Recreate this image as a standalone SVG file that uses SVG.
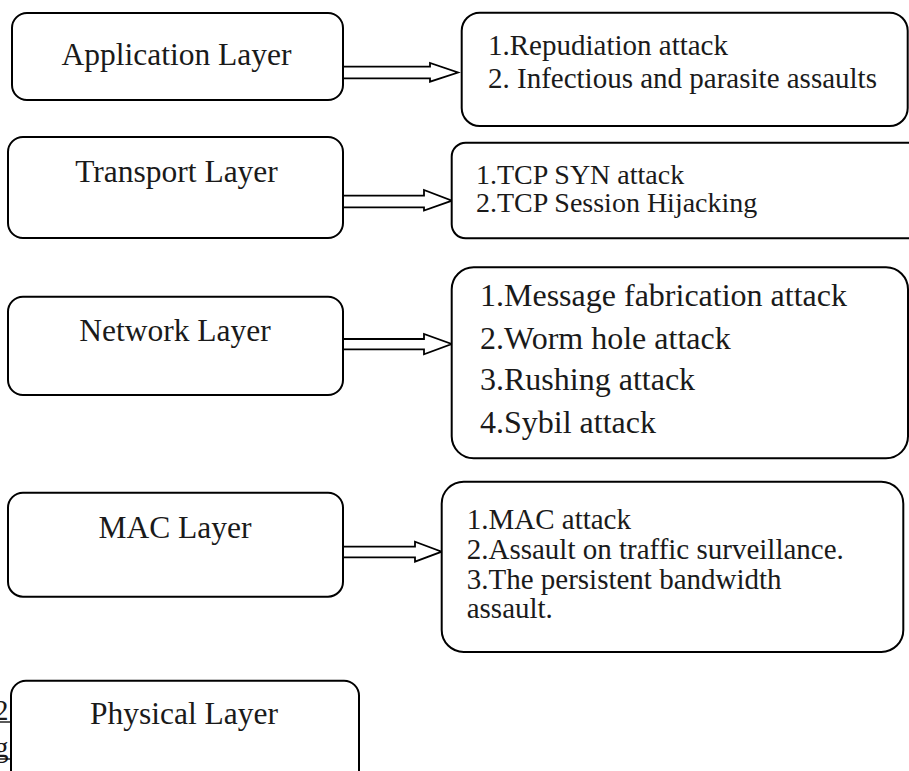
<svg xmlns="http://www.w3.org/2000/svg" width="909" height="771" viewBox="0 0 909 771">
<style>
.box{fill:#fff;stroke:#000;stroke-width:2}
.arrow{fill:#fff;stroke:#000;stroke-width:1.8;stroke-linejoin:miter}
.lbl{font-family:"Liberation Serif","Times New Roman",serif;font-size:31.5px;fill:#1a1a1a;text-anchor:middle}
.it{font-family:"Liberation Serif","Times New Roman",serif;font-size:29px;fill:#1a1a1a}
.big{font-size:32px}
.tcp{font-size:28px}
.frag{font-family:"Liberation Serif","Times New Roman",serif;font-size:29px;fill:#1a1a1a}
</style>
<rect width="909" height="771" fill="#fff"/>
<g id="fragments">
<text class="frag" x="-6" y="720">2</text>
<text class="frag" x="-6" y="757">g</text>
<line x1="0" y1="722" x2="11" y2="722" stroke="#000" stroke-width="1.3"/>
<line x1="0" y1="759" x2="11" y2="759" stroke="#000" stroke-width="1.3"/>
</g>
<g id="connectors">
<polygon class="arrow" points="343,66.7 430,66.7 430,63 458,72.5 430,81.7 430,78.3 343,78.3"/>
<polygon class="arrow" points="343,195.7 424,195.7 424,190 452,200.7 424,210.5 424,207.3 343,207.3"/>
<polygon class="arrow" points="343,339 424,339 424,334 451.7,344 424,354.3 424,349.3 343,349.3"/>
<polygon class="arrow" points="343,546.7 415,546.7 415,541.7 441.7,551.7 415,561.7 415,557.3 343,557.3"/>
</g>
<g id="application">
<rect class="box" x="12" y="13" width="331" height="87" rx="15"/>
<text class="lbl" x="176.5" y="65">Application Layer</text>
</g>
<g id="application-attacks">
<rect class="box" x="461.7" y="12.7" width="446" height="113.3" rx="18"/>
<text class="it" x="488" y="55">1.Repudiation attack</text>
<text class="it" x="488" y="88">2. Infectious and parasite assaults</text>
</g>
<g id="transport">
<rect class="box" x="8" y="137" width="335" height="101" rx="15"/>
<text class="lbl" x="176.5" y="182">Transport Layer</text>
</g>
<g id="transport-attacks">
<rect class="box" x="451.7" y="142.7" width="480" height="95.6" rx="14"/>
<text class="it tcp" x="476" y="184">1.TCP SYN attack</text>
<text class="it tcp" x="476" y="212">2.TCP Session Hijacking</text>
</g>
<g id="network">
<rect class="box" x="8" y="296.7" width="335" height="98.3" rx="15"/>
<text class="lbl" x="175" y="341">Network Layer</text>
</g>
<g id="network-attacks">
<rect class="box" x="451.7" y="267.3" width="456.3" height="191" rx="22"/>
<text class="it big" x="480" y="305.5">1.Message fabrication attack</text>
<text class="it big" x="480" y="349">2.Worm hole attack</text>
<text class="it big" x="480" y="390">3.Rushing attack</text>
<text class="it big" x="480" y="433">4.Sybil attack</text>
</g>
<g id="mac">
<rect class="box" x="8" y="492.7" width="335" height="104" rx="15"/>
<text class="lbl" x="175" y="538">MAC Layer</text>
</g>
<g id="mac-attacks">
<rect class="box" x="441.7" y="481.7" width="461.6" height="170.3" rx="22"/>
<text class="it" x="466.7" y="529">1.MAC attack</text>
<text class="it" x="466.7" y="559">2.Assault on traffic surveillance.</text>
<text class="it" x="466.7" y="588.5">3.The persistent bandwidth</text>
<text class="it" x="466.7" y="618">assault.</text>
</g>
<g id="physical">
<rect class="box" x="11" y="680.7" width="348" height="120" rx="15"/>
<text class="lbl" x="184" y="724">Physical Layer</text>
</g>
</svg>
